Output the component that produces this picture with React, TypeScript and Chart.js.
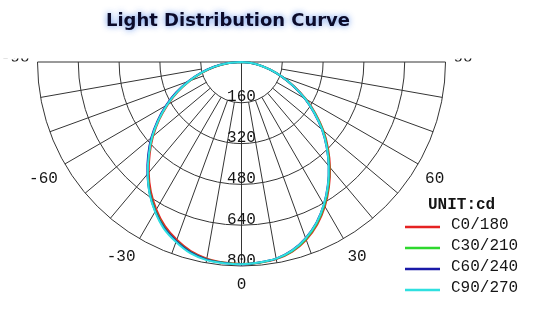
import React, { useEffect, useRef } from "react";
import { Chart, registerables } from "chart.js";

Chart.register(...registerables);

// ---------- data ----------
const TITLE = "Light Distribution Curve";
const UNIT_LABEL = "UNIT:cd";
const GAMMA = [0, 5, 10, 15, 20, 25, 30, 35, 40, 45, 50, 55, 60, 65, 70, 75, 80, 85, 90];
const RING_VALUES = [160, 320, 480, 640, 800];
const RING_LABELS = ["160", "320", "480", "640", "800"];
const SPOKE_ANGLES = [-80, -70, -60, -50, -40, -30, -20, -10, 0, 10, 20, 30, 40, 50, 60, 70, 80];
const ANGLE_LABEL_VALUES = [-90, -60, -30, 0, 30, 60, 90];
const ANGLE_LABELS = ["-90", "-60", "-30", "0", "30", "60", "90"];
const SERIES_LABELS = ["C0/180", "C30/210", "C60/240", "C90/270"];
const SERIES_COLORS = ["#e52222", "#2ed82e", "#1a1aa8", "#2fe0e0"];

// right half-planes (positive gamma)
const C0 = [792, 790, 785, 770, 742, 703, 654, 598, 540, 480, 420, 355, 292, 228, 170, 117, 72, 33, 0];
const C30 = [792, 790, 784, 768, 739, 699, 650, 594, 536, 476, 416, 351, 289, 226, 168, 116, 71, 33, 0];
const C60 = [792, 789, 783, 765, 735, 695, 646, 590, 532, 472, 412, 348, 287, 225, 168, 116, 71, 33, 0];
const C90 = [792, 789, 783, 766, 736, 696, 646, 591, 532, 473, 413, 349, 288, 226, 169, 117, 72, 33, 0];
// left half-planes (negative gamma)
const C180 = [792, 789, 783, 768, 742, 710, 668, 620, 566, 509, 453, 394, 334, 276, 215, 158, 106, 53, 0];
const C210 = [792, 790, 786, 772, 747, 716, 674, 626, 571, 514, 457, 398, 338, 279, 218, 161, 108, 54, 0];
const C240 = [793, 791, 787, 773, 748, 718, 676, 628, 574, 518, 462, 402, 342, 283, 222, 165, 112, 57, 0];
const C270 = [793, 792, 789, 776, 751, 721, 678, 629, 572, 514, 458, 398, 338, 279, 219, 162, 110, 56, 0];

const RIGHT_PLANES = [C0, C30, C60, C90];
const LEFT_PLANES = [C180, C210, C240, C270];

// ---------- layout ----------
const W = 555;
const H = 336;
const CENTER_X_PX = 241.5;
const CENTER_Y_PX = 62;
const RADIUS_PX = 204;
const MAX_CD = 800;
const CD_PER_PX = MAX_CD / RADIUS_PX;
const X_MIN = -CENTER_X_PX * CD_PER_PX;
const X_MAX = (W - CENTER_X_PX) * CD_PER_PX;
const Y_MAX = CENTER_Y_PX * CD_PER_PX;
const Y_MIN = -(H - CENTER_Y_PX) * CD_PER_PX;
const LABEL_R_CD = 212 * CD_PER_PX;

const MONO = '"Liberation Mono", "DejaVu Sans Mono", monospace';

const toXY = (deg: number, v: number) => {
  const a = (deg * Math.PI) / 180;
  return { x: v * Math.sin(a), y: -v * Math.cos(a) };
};

function buildSeries(left: number[], right: number[]) {
  const pts: { x: number; y: number }[] = [];
  for (let i = GAMMA.length - 1; i >= 0; i--) pts.push(toXY(-GAMMA[i], left[i]));
  for (let i = 1; i < GAMMA.length; i++) pts.push(toXY(GAMMA[i], right[i]));
  return pts;
}

const gridPlugin = {
  id: "polarGrid",
  beforeDatasetsDraw(chart: any) {
    const { ctx } = chart;
    const xs = chart.scales.x;
    const ys = chart.scales.y;
    const P = (deg: number, v: number) => {
      const p = toXY(deg, v);
      return [xs.getPixelForValue(p.x), ys.getPixelForValue(p.y)];
    };
    const cx = xs.getPixelForValue(0);
    const cy = ys.getPixelForValue(0);
    ctx.save();
    ctx.strokeStyle = "#353535";
    ctx.lineWidth = 1;
    for (const v of RING_VALUES) {
      const r = xs.getPixelForValue(v) - cx;
      ctx.beginPath();
      ctx.arc(cx, cy, r, 0, Math.PI);
      ctx.stroke();
    }
    for (const a of SPOKE_ANGLES) {
      const inner = a === 0 ? 0 : RING_VALUES[0];
      const [x1, y1] = P(a, inner);
      const [x2, y2] = P(a, MAX_CD);
      ctx.beginPath();
      ctx.moveTo(x1, y1);
      ctx.lineTo(x2, y2);
      ctx.stroke();
    }
    {
      const [x1, y1] = P(-90, MAX_CD);
      const [x2, y2] = P(90, MAX_CD);
      ctx.beginPath();
      ctx.moveTo(x1, y1);
      ctx.lineTo(x2, y2);
      ctx.stroke();
    }
    // ring labels
    ctx.fillStyle = "#151515";
    ctx.font = `16px ${MONO}`;
    ctx.textAlign = "center";
    ctx.textBaseline = "alphabetic";
    RING_VALUES.forEach((v, i) => {
      const y = ys.getPixelForValue(-v);
      ctx.fillText(RING_LABELS[i], cx, y - 1.5);
    });
    // angle labels
    ANGLE_LABEL_VALUES.forEach((a, i) => {
      const [x, y] = P(a, LABEL_R_CD);
      ctx.textAlign = a < 0 ? "right" : a > 0 ? "left" : "center";
      if (Math.abs(a) === 90) {
        ctx.save();
        ctx.beginPath();
        ctx.rect(0, cy - 3.5, W, 3);
        ctx.clip();
        ctx.textBaseline = "alphabetic";
        ctx.fillText(ANGLE_LABELS[i], x, cy - 0.5);
        ctx.restore();
      } else {
        ctx.textBaseline = "top";
        ctx.fillText(ANGLE_LABELS[i], x, y + 3);
      }
    });
    ctx.restore();
  },
  afterDraw(chart: any) {
    const { ctx } = chart;
    ctx.save();
    // title
    ctx.font = 'bold 18px "DejaVu Sans", sans-serif';
    const tw = ctx.measureText(TITLE).width;
    const targetW = 244;
    ctx.translate(228, 26);
    ctx.scale(targetW / tw, 1);
    ctx.textAlign = "center";
    ctx.textBaseline = "alphabetic";
    ctx.shadowColor = "rgba(60,120,230,0.85)";
    ctx.shadowBlur = 6;
    ctx.fillStyle = "#0b0b2a";
    ctx.fillText(TITLE, 0, 0);
    ctx.restore();

    // legend
    ctx.save();
    ctx.fillStyle = "#151515";
    ctx.font = `bold 16px ${MONO}`;
    ctx.textAlign = "left";
    ctx.textBaseline = "middle";
    ctx.fillText(UNIT_LABEL, 428, 205);
    ctx.font = `16px ${MONO}`;
    chart.data.datasets.forEach((ds: any, i: number) => {
      const y = 227 + i * 21;
      ctx.strokeStyle = ds.borderColor;
      ctx.lineWidth = 2.5;
      ctx.beginPath();
      ctx.moveTo(405, y);
      ctx.lineTo(440, y);
      ctx.stroke();
      ctx.fillStyle = "#151515";
      ctx.fillText(ds.label, 451, y - 2);
    });
    ctx.restore();
  },
};

export default function App() {
  const ref = useRef<HTMLCanvasElement | null>(null);
  useEffect(() => {
    if (!ref.current) return;
    const chart = new Chart(ref.current, {
      type: "scatter",
      data: {
        datasets: SERIES_LABELS.map((label, i) => ({
          label,
          data: buildSeries(LEFT_PLANES[i], RIGHT_PLANES[i]),
          showLine: true,
          borderColor: SERIES_COLORS[i],
          backgroundColor: SERIES_COLORS[i],
          borderWidth: 2,
          pointRadius: 0,
          pointHoverRadius: 0,
          tension: 0.25,
          fill: false,
          order: SERIES_LABELS.length - 1 - i,
        })),
      },
      options: {
        responsive: false,
        animation: false,
        devicePixelRatio: 1,
        layout: { padding: 0, autoPadding: false },
        plugins: {
          legend: { display: false },
          title: { display: false },
          tooltip: { enabled: false },
        },
        events: [],
        scales: {
          x: { type: "linear", display: false, min: X_MIN, max: X_MAX },
          y: { type: "linear", display: false, min: Y_MIN, max: Y_MAX },
        },
      },
      plugins: [gridPlugin],
    });
    return () => chart.destroy();
  }, []);
  return (
    <div style={{ position: "fixed", left: 0, top: 0, width: W, height: H, background: "#ffffff" }}>
      <canvas ref={ref} width={W} height={H} style={{ width: W, height: H, display: "block" }} />
    </div>
  );
}
